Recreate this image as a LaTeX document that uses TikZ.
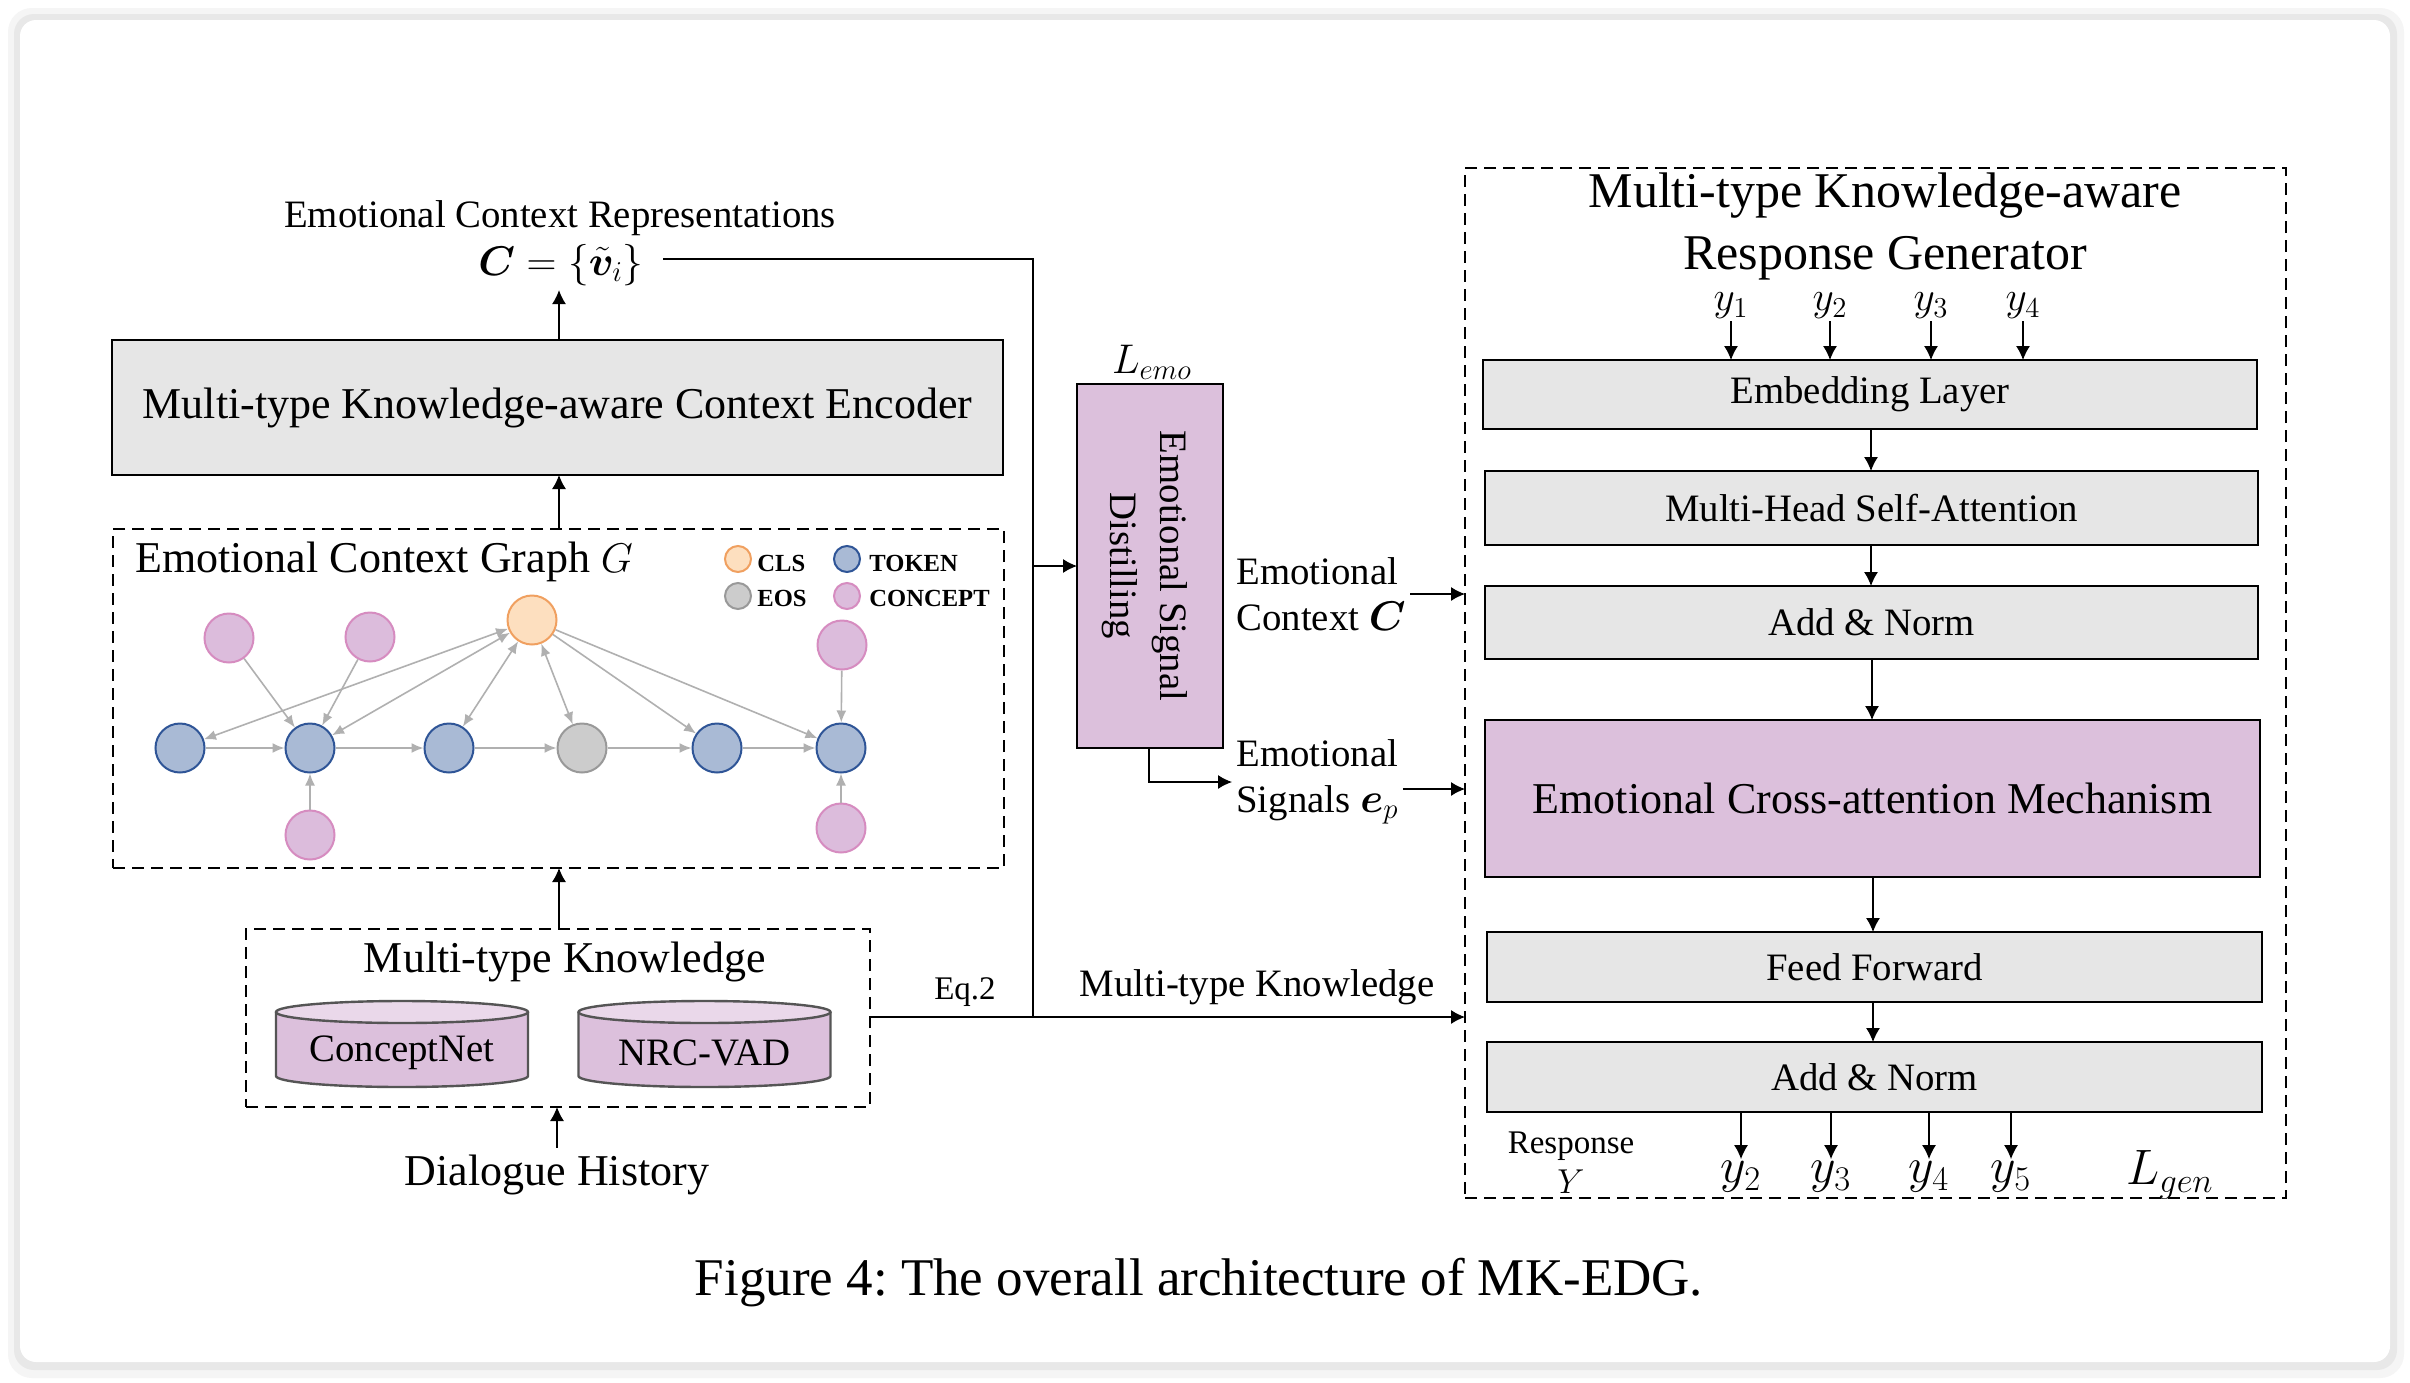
\documentclass[tikz,border=0pt]{standalone}
\usepackage{fontspec}
\setmainfont{Liberation Serif}
\usepackage{amsmath,bm}
\usetikzlibrary{arrows.meta,calc}
\frenchspacing
\definecolor{boxgray}{HTML}{E6E6E6}
\definecolor{pinkfill}{HTML}{DCC0DC}
\definecolor{cyltop}{HTML}{EAD8EA}
\definecolor{cyldraw}{HTML}{555555}
\definecolor{tokfill}{HTML}{A9BAD5}
\definecolor{tokdraw}{HTML}{2F5597}
\definecolor{clsfill}{HTML}{FDDFBF}
\definecolor{clsdraw}{HTML}{F0A060}
\definecolor{eosfill}{HTML}{CCCCCC}
\definecolor{eosdraw}{HTML}{999999}
\definecolor{confill}{HTML}{DCBCDC}
\definecolor{condraw}{HTML}{D68CC0}
\definecolor{edgegray}{HTML}{B0B0B0}
\newcommand\mycyl[4]{%
  \fill[pinkfill] (#1-126,#2-32) -- (#1-126,#2+32) arc[start angle=180,end angle=360,x radius=63pt,y radius=5.5pt] -- (#1+126,#2-32) -- cycle;
  \draw[cyldraw,line width=1.2pt] (#1-126,#2-32) -- (#1-126,#2+32) arc[start angle=180,end angle=360,x radius=63pt,y radius=5.5pt] -- (#1+126,#2-32);
  \draw[cyldraw,line width=1.2pt,fill=cyltop] (#1,#2-32) ellipse[x radius=63pt,y radius=5.5pt];
  \node[f19] (#3) at (#1,#2+9) {#4};}
\begin{document}
\begin{tikzpicture}[x=0.5pt,y=-0.5pt,
  f16/.style={font=\fontsize{16.5}{19}\selectfont},
  f19/.style={font=\fontsize{19.4}{23}\selectfont},
  f21/.style={font=\fontsize{21}{25}\selectfont},
  f22/.style={font=\fontsize{22}{26}\selectfont},
  f25/.style={font=\fontsize{25}{31}\selectfont},
  f26/.style={font=\fontsize{26}{31}\selectfont},
  legtxt/.style={font=\fontsize{12.3}{14}\selectfont\bfseries, anchor=west, inner sep=0pt},
  box/.style={draw, line width=1.3pt, fill=boxgray, inner sep=0pt, outer sep=0pt},
  pbox/.style={box, fill=pinkfill},
  dbox/.style={draw, dash pattern=on 6pt off 3.5pt, line width=1pt, inner sep=0pt, outer sep=0pt},
  arr/.style={-{Latex[length=7pt,width=7pt]}, line width=0.6pt},
  ln/.style={line width=0.6pt},
  gedge/.style={draw=edgegray, line width=0.8pt, -{Latex[length=6pt,width=5pt]}},
  bedge/.style={draw=edgegray, line width=0.8pt, {Latex[length=6pt,width=5pt]}-{Latex[length=6pt,width=5pt]}},
  gnode/.style={circle, minimum size=24.5pt, inner sep=0pt, line width=1pt},
  tok/.style={gnode, fill=tokfill, draw=tokdraw},
  cls/.style={gnode, fill=clsfill, draw=clsdraw},
  eos/.style={gnode, fill=eosfill, draw=eosdraw},
  con/.style={gnode, fill=confill, draw=condraw},
  leg/.style={circle, minimum size=13pt, inner sep=0pt, line width=1pt}]
\useasboundingbox (0,0) rectangle (2410,1382);
% card
\fill[white] (0,0) rectangle (2410,1382);
\fill[black!4, rounded corners=12pt] (8,8) rectangle (2404,1378);
\fill[black!9, rounded corners=10pt] (14,14) rectangle (2397,1370);
\fill[white, rounded corners=8pt] (20,20) rectangle (2390,1362);

% ---------- left column ----------
\node[f19] (ecrt) at (560,218) {Emotional Context Representations};
\node[f22, inner sep=2pt] (crep) at (561,265) {$\bm{C}=\{\tilde{\bm{v}}_i\}$};
\node[box, minimum width=445.5pt, minimum height=67.5pt, f22] (enc) at (557.5,407.5) {Multi-type Knowledge-aware Context Encoder};
\node[dbox, minimum width=445.5pt, minimum height=169.5pt] (graph) at (558.5,698.5) {};
\node[f22, anchor=west, inner sep=0pt] (gtitle) at (135,562) {Emotional Context Graph $G$};
% legend
\node[leg, fill=clsfill, draw=clsdraw] (lcls) at (738,559) {};
\node[legtxt] (lclst) at (757,563) {CLS};
\node[leg, fill=tokfill, draw=tokdraw] (ltok) at (847,559) {};
\node[legtxt] (ltokt) at (869,563) {TOKEN};
\node[leg, fill=eosfill, draw=eosdraw] (leos) at (738,596) {};
\node[legtxt] (leost) at (757,598) {EOS};
\node[leg, fill=confill, draw=condraw] (lcon) at (847,596) {};
\node[legtxt] (lcont) at (869,598) {CONCEPT};
% graph nodes
\node[tok] (t1) at (180,748) {};
\node[tok] (t2) at (310,748) {};
\node[tok] (t3) at (449,748) {};
\node[eos] (e4) at (582,748) {};
\node[tok] (t5) at (717,748) {};
\node[tok] (t6) at (841,748) {};
\node[cls] (c0) at (532,620) {};
\node[con] (k1) at (229,638) {};
\node[con] (k2) at (370,637) {};
\node[con] (k3) at (842,645) {};
\node[con] (k4) at (310,835) {};
\node[con] (k5) at (841,828) {};
\draw[gedge] (t1) -- (t2);
\draw[gedge] (t2) -- (t3);
\draw[gedge] (t3) -- (e4);
\draw[gedge] (e4) -- (t5);
\draw[gedge] (t5) -- (t6);
\draw[gedge] (k1) -- (t2);
\draw[gedge] (k2) -- (t2);
\draw[gedge] (k4) -- (t2);
\draw[gedge] (k3) -- (t6);
\draw[gedge] (k5) -- (t6);
\draw[bedge] (c0) -- (t1);
\draw[bedge] (c0) -- (t2);
\draw[bedge] (c0) -- (t3);
\draw[bedge] (c0) -- (e4);
\draw[gedge] (c0) -- (t5);
\draw[gedge] (c0) -- (t6);
% knowledge
\node[dbox, minimum width=312pt, minimum height=89pt] (know) at (558,1018) {};
\node[f22] (ktitle) at (565,962) {Multi-type Knowledge};
\mycyl{402}{1044}{cnet}{ConceptNet}
\mycyl{704.5}{1044}{nrc}{NRC-VAD}
\node[f22] (dh) at (557,1175) {Dialogue History};
\draw[arr] (dh.north) -- (dh.north |- know.south);
\draw[arr] (know.north -| 559,0) -- (graph.south -| 559,0);
\draw[arr] (graph.north -| 559,0) -- (enc.south -| 559,0);
\draw[arr] (enc.north -| 559,0) -- (crep.south -| 559,0);

% ---------- middle ----------
\coordinate (cr) at (663,259);
\coordinate (jt) at (1033,259);
\coordinate (jn) at (1033,1017);
\node[pbox, minimum width=73pt, minimum height=182pt] (dist) at (1150,566) {};
\node[f19, rotate=-90, align=center, font=\fontsize{19.4}{25}\selectfont] (distt) at (1145,566) {Emotional Signal\\Distilling};
\node[f21] (lemo) at (1152,362) {$L_{emo}$};
\draw[ln] (cr) -- (jt) -- (jn);
\draw[arr] (jt |- dist.west) -- (dist.west);
\node[f19, anchor=west, align=left, inner sep=2pt] (ectx) at (1232,594) {Emotional\\Context $\bm{C}$};
\node[f19, anchor=west, align=left, inner sep=2pt] (esig) at (1232,782) {Emotional\\Signals $\bm{e}_p$};
\draw[arr] (dist.south -| 1149,0) |- (esig.west);
\node[f16] (eq2) at (965,992) {Eq.2};
\node[f19] (mkl) at (1257,987) {Multi-type Knowledge};

% ---------- generator ----------
\node[dbox, line width=0.8pt, minimum width=410.5pt, minimum height=515pt] (gen) at (1875.5,683) {};
\draw[arr] (know.east |- jn) -- (jn -| gen.west);
\draw[arr] (ectx.east) -- (ectx.east -| gen.west);
\draw[arr] (esig.east) ++(0,7) coordinate (esa) -- (esa -| gen.west);
\node[f25, align=center, font=\fontsize{25}{31}\selectfont] (gtit) at (1885,226) {Multi-type Knowledge-aware\\Response Generator};
\node[box, minimum width=387pt, minimum height=34.5pt, f19] (emb) at (1870,394.5) {Embedding Layer};
\node[box, minimum width=386.5pt, minimum height=37pt, f19] (mhsa) at (1871.5,508) {Multi-Head Self-Attention};
\node[box, minimum width=386.5pt, minimum height=36.5pt, f19] (an1) at (1871.5,622.5) {Add \& Norm};
\node[pbox, minimum width=387.5pt, minimum height=78.5pt, f22] (ecam) at (1872.5,798.5) {Emotional Cross-attention Mechanism};
\node[box, minimum width=387.5pt, minimum height=35pt, f19] (ff) at (1874.5,967) {Feed Forward};
\node[box, minimum width=387.5pt, minimum height=35pt, f19] (an2) at (1874.5,1077) {Add \& Norm};
\draw[arr] (emb.south -| 1871,0) -- (mhsa.north -| 1871,0);
\draw[arr] (mhsa.south -| 1871,0) -- (an1.north -| 1871,0);
\draw[arr] (an1.south -| 1872,0) -- (ecam.north -| 1872,0);
\draw[arr] (ecam.south -| 1873,0) -- (ff.north -| 1873,0);
\draw[arr] (ff.south -| 1873,0) -- (an2.north -| 1873,0);
% inputs
\node[f21, inner sep=1pt] (i1) at (1731,306) {$y_1$};
\node[f21, inner sep=1pt] (i2) at (1830,306) {$y_2$};
\node[f21, inner sep=1pt] (i3) at (1931,306) {$y_3$};
\node[f21, inner sep=1pt] (i4) at (2023,306) {$y_4$};
\foreach \n in {i1,i2,i3,i4} \draw[arr] (\n.south) -- (\n.south |- emb.north);
% outputs
\node[f26, inner sep=1pt] (o2) at (1741,1177) {$y_2$};
\node[f26, inner sep=1pt] (o3) at (1831,1177) {$y_3$};
\node[f26, inner sep=1pt] (o4) at (1929,1177) {$y_4$};
\node[f26, inner sep=1pt] (o5) at (2011,1177) {$y_5$};
\foreach \n in {o2,o3,o4,o5} \draw[arr] (\n.north |- an2.south) -- (\n.north);
\node[f16, align=center, font=\fontsize{16.5}{20}\selectfont] (resp) at (1571,1163) {Response\\$Y$};
\node[f26] (lgen) at (2170,1175) {$L_{gen}$};

% caption
\node[font=\fontsize{26.5}{31}\selectfont] (cap) at (1199,1283) {Figure 4: The overall architecture of MK-EDG.};
\end{tikzpicture}
\end{document}
